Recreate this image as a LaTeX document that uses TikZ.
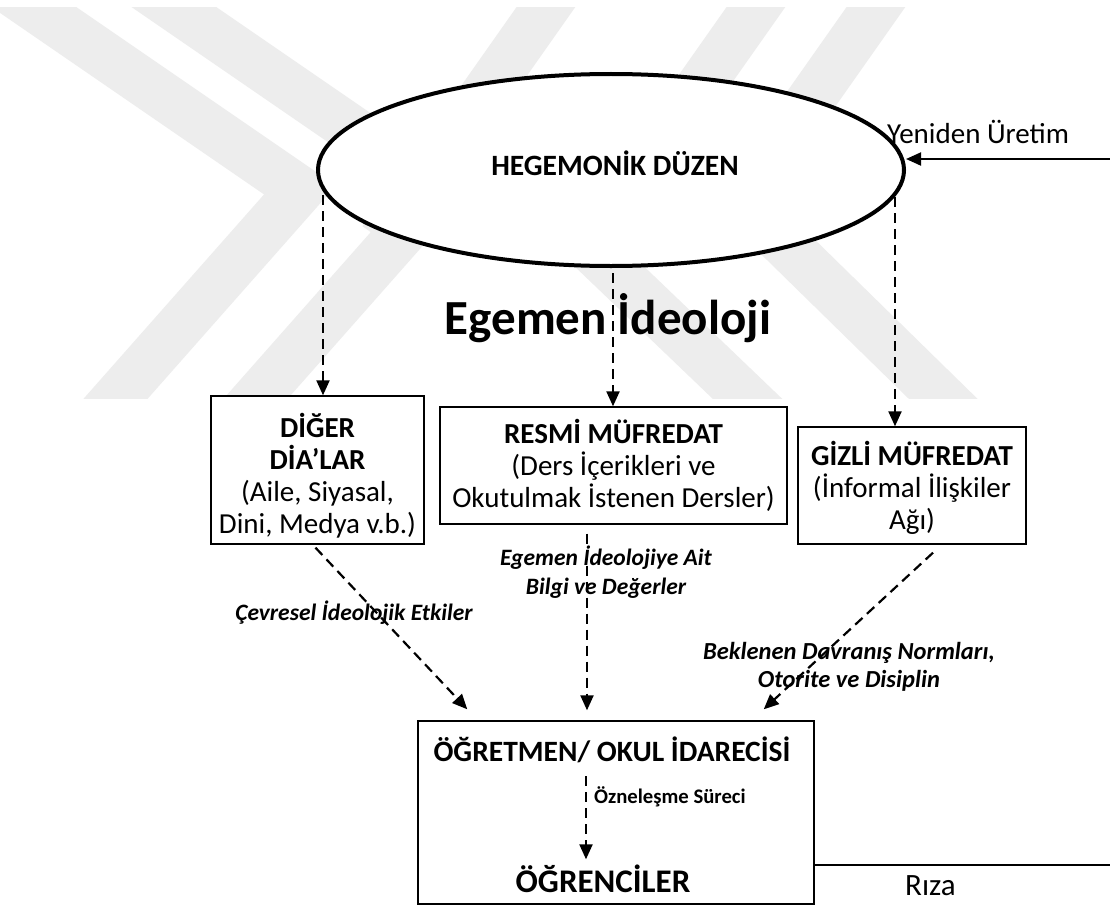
\documentclass[tikz,border=0pt]{standalone}
\usepackage{fontspec}
\setmainfont{Carlito}
\usetikzlibrary{arrows.meta,shapes.geometric}

\begin{document}
\begin{tikzpicture}[x=1pt,y=-1pt,
  wm/.style={line width=48pt, color=black!7, line join=miter},
  boxnode/.style={draw, line width=1.4pt, fill=white, inner sep=0pt},
  dasharrow/.style={line width=2.2pt, dash pattern=on 10pt off 6pt,
    -{Triangle[length=15pt,width=13pt]}},
  solidarrow/.style={line width=2pt, -{Triangle[length=15pt,width=13pt]}},
  fnorm/.style={font=\fontsize{29}{32}\selectfont, inner sep=0pt, align=center},
  fhead/.style={font=\fontsize{29.5}{32}\selectfont\bfseries, inner sep=0pt},
  flab/.style={font=\fontsize{23.5}{29}\selectfont\bfseries\itshape, inner sep=0pt, align=center}
]
\useasboundingbox (0,0) rectangle (1110,915);
\fill[white] (0,0) rectangle (1110,915);

% faint background stripes
\begin{scope}
  \clip (0,8) rectangle (1110,398);
  \draw[wm] (-20,-30) -- (300,190) -- (88,430);
  \draw[wm] (120,-30) -- (440,190) -- (228,430);
  \draw[wm] (572,-30) -- (382,240);
  \draw[wm] (782,-30) -- (592,240);
  \draw[wm] (902,-30) -- (712,240);
  \draw[wm] (540,200) -- (780,430);
  \draw[wm] (740,200) -- (975,430);
\end{scope}

% hegemonic order
\node[ellipse, draw, line width=4pt, fill=white, minimum width=586pt,
      minimum height=192pt, inner sep=0pt] (ell) at (611,170) {};
\node[fhead] (title) at (615,163) {HEGEMONİK DÜZEN};

\node[fnorm, anchor=west] (yu) at (887,132) {Yeniden Üretim};
\coordinate (rend) at (1110,159);
\draw[solidarrow] (rend) -- (rend -| ell.east);

\node[font=\fontsize{49}{56}\selectfont\bfseries, inner sep=0pt] (ideo) at (608,318) {Egemen İdeoloji};

% three channels
\node[boxnode, minimum width=213pt, minimum height=148pt] (diger) at (317.5,470) {};
\node[fnorm] (digertxt) at (317.5,476)
  {{\bfseries DİĞER}\\{\bfseries DİA’LAR}\\(Aile, Siyasal,\\Dini, Medya v.b.)};
\node[boxnode, minimum width=347pt, minimum height=117pt] (resmi) at (613.5,465.5) {};
\node[fnorm] (resmitxt) at (613.5,465)
  {{\bfseries RESMİ MÜFREDAT}\\(Ders İçerikleri ve\\Okutulmak İstenen Dersler)};
\node[boxnode, minimum width=228pt, minimum height=117pt] (gizli) at (912,485.5) {};
\node[fnorm] (gizlitxt) at (912,487.5)
  {{\bfseries GİZLİ MÜFREDAT}\\(İnformal İlişkiler\\Ağı)};

\coordinate (l0) at ([xshift=-288pt,yshift=-25pt]ell.center);
\coordinate (m0) at ([xshift=2pt,yshift=-5pt]ell.south);
\coordinate (r0) at ([xshift=284pt,yshift=-27pt]ell.center);
\draw[dasharrow] (l0) -- (l0 |- diger.north);
\draw[dasharrow] (m0) -- (m0 |- resmi.north);
\draw[dasharrow] (r0) -- (r0 |- gizli.north);

% teacher / students
\node[boxnode, minimum width=396pt, minimum height=183pt] (ogr) at (616,812.5) {};
\node[fhead] (teacher) at (612,750) {ÖĞRETMEN/ OKUL İDARECİSİ};
\node[fhead, font=\fontsize{33}{36}\selectfont\bfseries] (students) at (603,879) {ÖĞRENCİLER};
\node[font=\fontsize{20.7}{24}\selectfont\bfseries, inner sep=0pt, anchor=west] (ozn) at (594,797) {Özneleşme Süreci};

\node[flab] (lbl1) at (354,613) {Çevresel İdeolojik Etkiler};
\node[flab] (lbl2) at (606,572) {Egemen İdeolojiye Ait\\Bilgi ve Değerler};
\node[flab, font=\fontsize{24.5}{28}\selectfont\bfseries\itshape] (lbl3) at (849,667) {Beklenen Davranış Normları,\\Otorite ve Disiplin};

\draw[dasharrow] ([xshift=-2pt,yshift=-3pt]diger.south) -- ([xshift=50pt,yshift=11pt]ogr.north west);
\draw[dasharrow] ([xshift=-26.5pt,yshift=-9pt]resmi.south) -- ([xshift=-29pt,yshift=10pt]ogr.north);
\draw[dasharrow] ([xshift=21pt,yshift=-8pt]gizli.south) -- ([xshift=-51pt,yshift=11pt]ogr.north east);
\draw[dasharrow] ([xshift=-30pt,yshift=-56pt]ogr.north) -- ([xshift=-30pt,yshift=-139pt]ogr.north);

% consent
\node[fnorm, font=\fontsize{31}{34}\selectfont, anchor=west] (riza) at (905,886) {Rıza};
\coordinate (rzend) at (1110,865);
\draw[line width=2pt] (rzend -| ogr.east) -- (rzend);
\end{tikzpicture}
\end{document}
